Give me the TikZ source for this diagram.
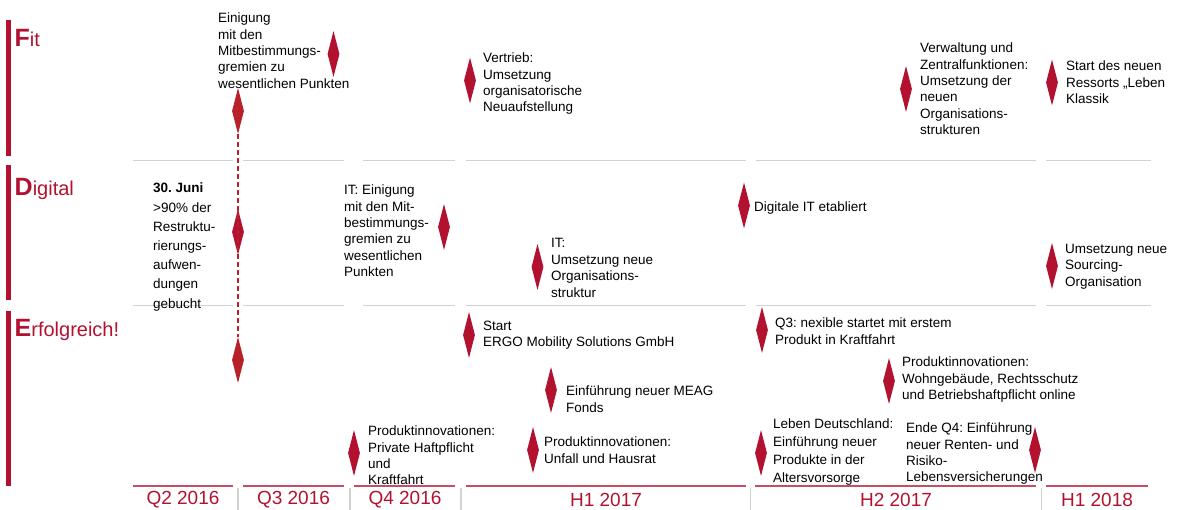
\documentclass[tikz,border=0pt]{standalone}
\usepackage{fontspec}
\setmainfont{Liberation Sans}
\usepackage{tikz}
\usetikzlibrary{shapes.geometric}
\frenchspacing

\definecolor{ergored}{RGB}{178,18,48}
\definecolor{ergodash}{RGB}{184,32,42}

\tikzset{
  milestone/.style={diamond, fill=ergored, minimum width=12pt, minimum height=46pt, inner sep=0pt},
  note/.style={anchor=north west, align=left, inner sep=0pt, font=\fontsize{13.5}{16.3}\selectfont},
  period/.style={text=ergored, inner sep=0pt, font=\fontsize{19}{19}\selectfont},
  rowlabel/.style={anchor=base west, text=ergored, inner sep=0pt, font=\fontsize{20}{20}\selectfont},
  gridline/.style={draw=gray!35, line width=1.5pt},
  periodline/.style={draw=ergored!75, line width=1.2pt}
}
\newcommand{\bigini}[1]{{\fontsize{25}{25}\selectfont\bfseries #1}}

\begin{document}
\begin{tikzpicture}[x=1pt,y=-1pt]
  \useasboundingbox (0,0) rectangle (1183,510);

  % row bars and labels
  \fill[ergored] (6,20) rectangle (11,156);
  \fill[ergored] (6,165) rectangle (11,300);
  \fill[ergored] (6,311) rectangle (11,486);
  \node[rowlabel] (fit) at (14.5,47) {\bigini{F}it};
  \node[rowlabel] (digital) at (14.5,196) {\bigini{D}igital};
  \node[rowlabel] (erfolg) at (14.5,337) {\bigini{E}rfolgreich!};

  % periods
  \draw[gridline] (133,160.5) -- (233,160.5) (133,305.5) -- (233,305.5);
  \draw[periodline] (133,486) -- (233,486);
  \node[period] (q2) at (183,500) {Q2 2016};
  \draw[gridline] (243,160.5) -- (344,160.5) (243,305.5) -- (344,305.5);
  \draw[periodline] (243,486) -- (344,486);
  \node[period] (q3) at (293.5,500) {Q3 2016};
  \draw[gridline] (363,160.5) -- (455,160.5) (363,305.5) -- (455,305.5);
  \draw[periodline] (354,486) -- (455,486);
  \node[period] (q4) at (405,500) {Q4 2016};
  \draw[gridline] (466,160.5) -- (746,160.5) (466,305.5) -- (746,305.5);
  \draw[periodline] (466,486) -- (746,486);
  \node[period] (h1a) at (606,500) {H1 2017};
  \draw[gridline] (756,160.5) -- (1036,160.5) (756,305.5) -- (1036,305.5);
  \draw[periodline] (755,486) -- (1036,486);
  \node[period] (h2a) at (896,500) {H2 2017};
  \draw[gridline] (1046,160.5) -- (1151,160.5) (1046,305.5) -- (1151,305.5);
  \draw[periodline] (1046,486) -- (1148,486);
  \node[period] (h1b) at (1097,500) {H1 2018};
  \draw[gridline, line width=1.2pt] (238,488) -- (238,510) (350,488) -- (350,510)
    (461,488) -- (461,510) (750.5,488) -- (750.5,510) (1041.5,488) -- (1041.5,510);

  % Fit
  \node[note] (tfit1) at (218,13) {Einigung\\mit den\\Mitbestimmungs-\\gremien zu\\wesentlichen Punkten};
  \node[note] (tfit2) at (483,53) {Vertrieb:\\Umsetzung\\organisatorische\\Neuaufstellung};
  \node[note] (tfit3) at (920,43) {Verwaltung und\\Zentralfunktionen:\\Umsetzung der\\neuen\\Organisations-\\strukturen};
  \node[note] (tfit4) at (1066,61) {Start des neuen\\Ressorts „Leben\\Klassik};

  % Digital
  \node[note, font=\fontsize{13.5}{19.2}\selectfont] (tdig1) at (153,183) {\textbf{30. Juni}\\>90\% der\\Restruktu-\\rierungs-\\aufwen-\\dungen\\gebucht};
  \node[note] (tdig2) at (344,185) {IT: Einigung\\mit den Mit-\\bestimmungs-\\gremien zu\\wesentlichen\\Punkten};
  \node[note] (tdig3) at (754,202) {Digitale IT etabliert};
  \node[note, font=\fontsize{13.5}{16.7}\selectfont] (tdig4) at (551,238) {IT:\\Umsetzung neue\\Organisations-\\struktur};
  \node[note] (tdig5) at (1065,244) {Umsetzung neue\\Sourcing-\\Organisation};

  % Erfolgreich
  \node[note] (terf1) at (483,321) {Start\\ERGO Mobility Solutions GmbH};
  \node[note] (terf2) at (566,386) {Einführung neuer MEAG\\Fonds};
  \node[note] (terf3) at (544,437) {Produktinnovationen:\\Unfall und Hausrat};
  \node[note] (terf4) at (368,426) {Produktinnovationen:\\Private Haftpflicht\\und\\Kraftfahrt};
  \node[note] (terf5) at (775,318) {Q3: nexible startet mit erstem\\Produkt in Kraftfahrt};
  \node[note] (terf6) at (902,357) {Produktinnovationen:\\Wohngebäude, Rechtsschutz\\und Betriebshaftpflicht online};
  \node[note, font=\fontsize{13.5}{18}\selectfont] (terf7) at (773,419) {Leben Deutschland:\\Einführung neuer\\Produkte in der\\Altersvorsorge};
  \node[note] (terf8) at (906,423) {Ende Q4: Einführung\\neuer Renten- und\\Risiko-\\Lebensversicherungen};

  % milestones
  \node[milestone, fill=ergodash] (mfit1) at (238,111) {};
  \node[milestone] (mfit2) at (333.5,54) {};
  \node[milestone] (mfit3) at (470,80.5) {};
  \node[milestone] (mfit4) at (906,89) {};
  \node[milestone] (mfit5) at (1052,82.5) {};
  \node[milestone] (mdig1) at (238,232) {};
  \node[milestone] (mdig2) at (444,227) {};
  \node[milestone] (mdig3) at (744,205.5) {};
  \node[milestone] (mdig4) at (537.5,267) {};
  \node[milestone] (mdig5) at (1052,266) {};
  \node[milestone, fill=ergodash] (merf1) at (238,360) {};
  \node[milestone] (merf2) at (469,335) {};
  \node[milestone] (merf3) at (551,390) {};
  \node[milestone] (merf4) at (533,450) {};
  \node[milestone] (merf5) at (354,453) {};
  \node[milestone] (merf6) at (762,330) {};
  \node[milestone] (merf7) at (889,381) {};
  \node[milestone] (merf8) at (761,453) {};
  \node[milestone] (merf9) at (1035,450) {};

  \draw[ergodash, line width=1.5pt, dash pattern=on 5pt off 3pt] (mfit1.south) -- (merf1.north);
\end{tikzpicture}
\end{document}
